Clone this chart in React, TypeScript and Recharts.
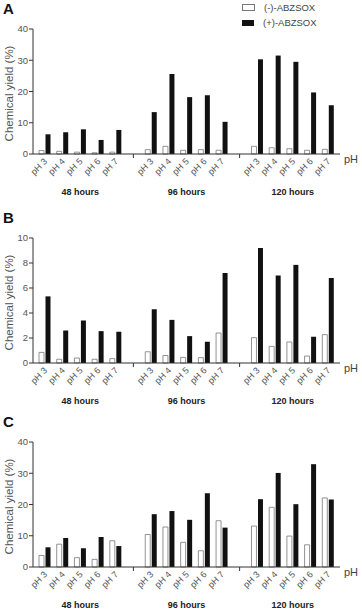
import React from 'react';
import { BarChart, Bar, XAxis, YAxis } from 'recharts';

const groups = ['48 hours', '96 hours', '120 hours'];
const phLabels = ['pH 3', 'pH 4', 'pH 5', 'pH 6', 'pH 7'];

const aMinus = [1.1, 0.85, 0.6, 0.4, 0.6, 1.4, 2.45, 1.2, 1.4, 1.2, 2.45, 2.0, 1.7, 1.2, 1.5];
const aPlus = [6.3, 7.0, 7.9, 4.5, 7.7, 13.4, 25.6, 18.2, 18.8, 10.3, 30.3, 31.5, 29.5, 19.7, 15.6];
const bMinus = [0.85, 0.3, 0.4, 0.3, 0.35, 0.9, 0.6, 0.45, 0.43, 2.4, 2.03, 1.33, 1.68, 0.56, 2.27];
const bPlus = [5.33, 2.6, 3.4, 2.55, 2.5, 4.3, 3.45, 2.15, 1.7, 7.2, 9.2, 7.0, 7.85, 2.1, 6.8];
const cMinus = [3.7, 7.3, 3.0, 2.45, 8.4, 10.4, 12.8, 7.9, 5.2, 14.8, 13.1, 19.1, 9.9, 7.1, 22.1];
const cPlus = [6.3, 9.25, 6.0, 9.6, 6.7, 16.9, 17.9, 15.1, 23.6, 12.6, 21.7, 30.1, 20.1, 32.9, 21.6];

const ticksA = [0, 10, 20, 30, 40];
const ticksB = [0, 2, 4, 6, 8, 10];
const ticksC = [0, 10, 20, 30, 40];

const seriesNames = ['(-)-ABZSOX', '(+)-ABZSOX'];

type Row = { key: string; label: string; group: string; minus: number | null; plus: number | null; gap: boolean };

function buildRows(minus: number[], plus: number[]): Row[] {
  const rows: Row[] = [];
  groups.forEach((g, gi) => {
    if (gi > 0) rows.push({ key: 'gap' + gi, label: '', group: '', minus: null, plus: null, gap: true });
    phLabels.forEach((p, pi) => {
      rows.push({ key: g + '|' + p, label: p, group: pi === 2 ? g : '', minus: minus[gi * 5 + pi], plus: plus[gi * 5 + pi], gap: false });
    });
  });
  return rows;
}

const FONT = '"Liberation Sans", Arial, sans-serif';

const XTick = (props: any) => {
  const { x, y, payload } = props;
  const v: string = payload.value;
  if (v.startsWith('gap')) {
    return <line x1={x} x2={x} y1={y} y2={y + 4} stroke="#333" strokeWidth={1} />;
  }
  const [g, p] = v.split('|');
  return (
    <g>
      <text
        x={x + 3}
        y={y + 8}
        textAnchor="end"
        fontSize={9}
        fill="#555"
        fontFamily={FONT}
        transform={`rotate(-45 ${x + 3} ${y + 8})`}
      >
        {p}
      </text>
      {p === 'pH 5' && (
        <text x={x} y={y + 41} textAnchor="middle" fontSize={9} fontWeight="bold" fill="#222" fontFamily={FONT}>
          {g}
        </text>
      )}
    </g>
  );
};

function Panel({ letter, minus, plus, ticks, top }: { letter: string; minus: number[]; plus: number[]; ticks: number[]; top: number }) {
  const data = buildRows(minus, plus);
  const yMax = ticks[ticks.length - 1];
  return (
    <>
      <div
        style={{
          position: 'absolute',
          left: 3,
          top: top - 28,
          fontFamily: FONT,
          fontWeight: 'bold',
          fontSize: 15,
          lineHeight: '15px',
          color: '#111',
        }}
      >
        {letter}
      </div>
      <div style={{ position: 'absolute', left: 0, top: top - 25 }}>
        <BarChart
          width={362}
          height={195}
          data={data}
          margin={{ top: 25, right: 22, bottom: 0, left: 0 }}
          barSize={5}
          barGap={1.5}
        >
          <XAxis
            dataKey="key"
            interval={0}
            tickLine={false}
            tickSize={0}
            tickMargin={0}
            height={45}
            padding={{ left: 3, right: 3 }}
            axisLine={{ stroke: '#333', strokeWidth: 1 }}
            tick={<XTick />}
            label={{
              content: (lp: any) => {
                const vb = lp.viewBox || {};
                return (
                  <text x={vb.x + vb.width + 4} y={vb.y + 9} fontSize={11} fill="#444" fontFamily={FONT}>
                    pH
                  </text>
                );
              },
            }}
          />
          <YAxis
            width={33}
            domain={[0, yMax]}
            ticks={ticks}
            interval={0}
            tickSize={4}
            tickMargin={1}
            tickLine={{ stroke: '#333' }}
            axisLine={{ stroke: '#333', strokeWidth: 1 }}
            tick={{ fontSize: 9.5, fill: '#555', fontFamily: FONT }}
            label={{
              content: (lp: any) => {
                const vb = lp.viewBox || {};
                const cy = vb.y + vb.height / 2 + 2;
                return (
                  <text
                    x={13}
                    y={cy}
                    textAnchor="middle"
                    fontSize={11.5}
                    fill="#555"
                    fontFamily={FONT}
                    transform={`rotate(-90 13 ${cy})`}
                  >
                    Chemical yield (%)
                  </text>
                );
              },
            }}
          />
          <Bar dataKey="minus" name={seriesNames[0]} fill="#fff" stroke="#777" strokeWidth={0.8} isAnimationActive={false} />
          <Bar dataKey="plus" name={seriesNames[1]} fill="#111" isAnimationActive={false} />
        </BarChart>
      </div>
    </>
  );
}

export default function App() {
  return (
    <div style={{ position: 'absolute', left: 0, top: 0, width: 362, height: 611, background: '#fff', overflow: 'hidden' }}>
      <div style={{ position: 'absolute', left: 242, top: 0, fontFamily: FONT, fontSize: 9.5, color: '#444' }}>
        {seriesNames.map((n, i) => (
          <div key={n} style={{ display: 'flex', alignItems: 'center', height: 15 }}>
            <span
              style={{
                display: 'inline-block',
                width: i === 0 ? 11 : 12,
                height: i === 0 ? 5 : 6,
                border: i === 0 ? '1px solid #777' : 'none',
                background: i === 0 ? '#fff' : '#111',
                marginRight: 9,
              }}
            />
            <span>{n}</span>
          </div>
        ))}
      </div>
      <Panel letter="A" minus={aMinus} plus={aPlus} ticks={ticksA} top={29} />
      <Panel letter="B" minus={bMinus} plus={bPlus} ticks={ticksB} top={238} />
      <Panel letter="C" minus={cMinus} plus={cPlus} ticks={ticksC} top={442} />
    </div>
  );
}
